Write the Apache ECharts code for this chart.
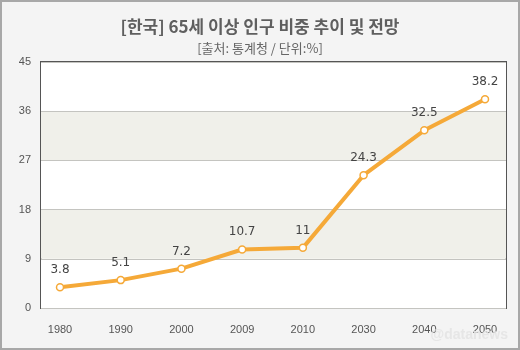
<!DOCTYPE html>
<html><head><meta charset="utf-8">
<script src="https://cdn.jsdelivr.net/npm/echarts@6/dist/echarts.min.js"></script>
<style>html,body{margin:0;padding:0;background:#f4f4f4}#c{width:520px;height:350px;box-sizing:border-box;border:2px solid #a8a8a8}</style>
</head><body><div id="c"></div>
<script>
const titleText = '[한국] 65세 이상 인구 비중 추이 및 전망';
const subtitleText = '[출처: 통계청 / 단위:%]';
const categories = ['1980','1990','2000','2009','2010','2030','2040','2050'];
const values = [3.8, 5.1, 7.2, 10.7, 11, 24.3, 32.5, 38.2];
const yTicks = [0, 9, 18, 27, 36, 45];

const chart = echarts.init(document.getElementById('c'), null, {renderer:'canvas'});
const yMin = yTicks[0], yMax = yTicks[yTicks.length-1], yStep = yTicks[1]-yTicks[0];
chart.setOption({
  backgroundColor: '#f4f4f4',
  animation: false,
  title: [
    {text: titleText, left: 'center', top: 11, textStyle:{fontFamily:'Noto Sans CJK KR', fontSize:17, fontWeight:'bold', color:'#5f5f5f'}},
    {text: subtitleText, left: 'center', top: 35, textStyle:{fontFamily:'Noto Sans CJK KR', fontSize:13, fontWeight:'normal', color:'#666'}}
  ],
  grid: [
    {left: 39, right: 12, top: 60, bottom: 40, show: true, borderColor:'#555', borderWidth: 2, backgroundColor:'#fff'},
    {left: 58, right: 33, top: 60, bottom: 40}
  ],
  xAxis: [
    {gridIndex:0, type:'value', min:0, max:1, show:false},
    {gridIndex:1, type:'category', data: categories, boundaryGap:false,
      axisLine:{show:false}, axisTick:{show:false},
      axisLabel:{margin:16, color:'#555', fontFamily:'Liberation Sans', fontSize:11}}
  ],
  yAxis: [
    {gridIndex:0, type:'value', min:yMin, max:yMax, interval:yStep,
      axisLine:{show:false}, axisTick:{show:false},
      axisLabel:{margin:10, color:'#555', fontFamily:'Liberation Sans', fontSize:11},
      splitLine:{show:true, lineStyle:{color:'#c4c4c0', width:1}},
      splitArea:{show:true, areaStyle:{color:['#ffffff','#f0f0ea']}}},
    {gridIndex:1, type:'value', min:yMin, max:yMax, interval:yStep, show:false, splitLine:{show:false}}
  ],
  series: [{
    type:'line', xAxisIndex:1, yAxisIndex:1, data: values,
    lineStyle:{color:'#f5a938', width:4},
    itemStyle:{color:'#fff', borderColor:'#f5a938', borderWidth:1.5},
    symbol:'circle', symbolSize:7,
    label:{show:true, position:'top', distance:7, color:'#444', fontFamily:'DejaVu Sans', fontSize:12},
    z:5
  }],
  graphic: [{type:'text', right: 10, bottom: 6, style:{text:'@datanews', fill:'rgba(228,228,228,0.9)', font:'bold 14px Liberation Sans'}, z:100}]
});
</script></body></html>
